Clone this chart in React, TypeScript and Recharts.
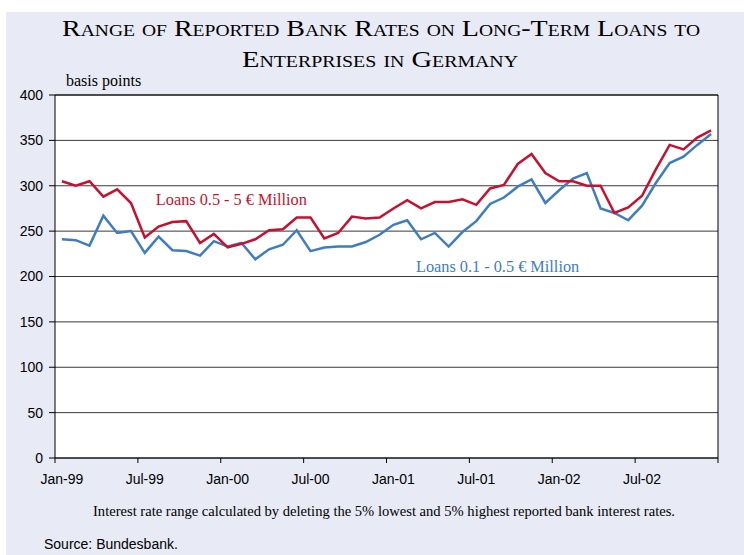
import React from "react";
import {
  LineChart,
  Line,
  XAxis,
  YAxis,
  CartesianGrid,
  ReferenceLine,
  ReferenceDot,
} from "recharts";

// months Jan-99 .. Dec-02
const monthNames = ["Jan", "Feb", "Mar", "Apr", "May", "Jun", "Jul", "Aug", "Sep", "Oct", "Nov", "Dec"];
const years = ["99", "00", "01", "02"];
const months = years.flatMap((y) => monthNames.map((m) => `${m}-${y}`));

// range of bank rates, basis points
const loansLarge = [
  305, 300, 305, 288, 296, 281, 243, 255, 260, 261, 237, 247,
  232, 236, 241, 251, 252, 265, 265, 242, 248, 266, 264, 265,
  275, 284, 275, 282, 282, 285, 279, 297, 301, 324, 335, 314,
  305, 305, 300, 300, 270, 276, 289, 318, 345, 340, 353, 361,
];
const loansSmall = [
  241, 240, 234, 267, 248, 250, 226, 244, 229, 228, 223, 239,
  233, 237, 219, 230, 235, 251, 228, 232, 233, 233, 238, 246,
  257, 262, 241, 248, 233, 249, 261, 280, 287, 299, 307, 281,
  295, 308, 314, 275, 270, 262, 278, 303, 325, 332, 345, 357,
];

const yTicks = [0, 50, 100, 150, 200, 250, 300, 350, 400];
// tick marks sit between months, labels every 6 months
const boundaryTicks = [-0.5, 5.5, 11.5, 17.5, 23.5, 29.5, 35.5, 41.5, 47.5];

const data = months.map((m, i) => ({
  i,
  month: m,
  large: loansLarge[i],
  small: loansSmall[i],
}));

const RED = "#c8102e";
const BLUE = "#3e7dc1";
const BG = "#e8eaf5";
const serif = "Liberation Serif";
const sans = "Liberation Sans";

const W = 744;
const H = 555;
const xAxisHeight = 30;
const margin = { top: 95, right: 26, bottom: 97 - xAxisHeight, left: 0 };
const yAxisWidth = 55;
const halfBand = (W - margin.left - margin.right - yAxisWidth) / months.length / 2;

const MonthTick = (props: any) => {
  const { x, y, payload } = props;
  const idx = payload.value + 0.5;
  if (idx >= months.length || idx % 6 !== 0) return <g />;
  return (
    <text x={x + halfBand} y={y} dy={19} textAnchor="middle" fill="#000" fontSize={14} fontFamily={sans}>
      {months[idx]}
    </text>
  );
};

const App = () => {
  return (
    <div style={{ position: "absolute", left: 0, top: 0, width: W, height: H, background: "#fff" }}>
      <svg width={W} height={H} style={{ position: "absolute", left: 0, top: 0 }}>
        <rect x={6} y={12} width={738} height={543} fill={BG} />
        <text
          x={381}
          y={36}
          textAnchor="middle"
          fontFamily={serif}
          fontSize={23}
          textLength={638}
          lengthAdjust="spacingAndGlyphs"
          style={{ fontVariant: "small-caps" }}
          fill="#000"
        >
          Range of Reported Bank Rates on Long-Term Loans to
        </text>
        <text
          x={380}
          y={67}
          textAnchor="middle"
          fontFamily={serif}
          fontSize={23}
          textLength={276}
          lengthAdjust="spacingAndGlyphs"
          style={{ fontVariant: "small-caps" }}
          fill="#000"
        >
          Enterprises in Germany
        </text>
        <text x={66} y={86} fontFamily={serif} fontSize={16} fill="#000">
          basis points
        </text>
        <text
          x={384}
          y={516}
          textAnchor="middle"
          fontFamily={serif}
          fontSize={14.5}
          textLength={582}
          lengthAdjust="spacingAndGlyphs"
          fill="#000"
        >
          Interest rate range calculated by deleting the 5% lowest and 5% highest reported bank interest rates.
        </text>
        <text x={44} y={549} fontFamily={sans} fontSize={14} fill="#000">
          Source: Bundesbank.
        </text>
      </svg>
      <div style={{ position: "absolute", left: 0, top: 0 }}>
        <LineChart width={W} height={H} data={data} margin={margin}>
          <CartesianGrid vertical={false} stroke="#3a3a3a" fill="#fff" fillOpacity={1} />
          <XAxis
            type="number"
            dataKey="i"
            domain={[-0.5, 47.5]}
            ticks={boundaryTicks}
            interval={0}
            tick={<MonthTick />}
            tickSize={5}
            height={xAxisHeight}
            stroke="#000"
            tickLine={{ stroke: "#000" }}
            allowDataOverflow
          />
          <YAxis
            domain={[0, 400]}
            ticks={yTicks}
            interval={0}
            width={yAxisWidth}
            tickSize={6}
            tickMargin={6}
            stroke="#000"
            tickLine={{ stroke: "#000" }}
            tick={{ fill: "#000", fontSize: 14, fontFamily: sans }}
          />
          <ReferenceLine y={400} stroke="#000" />
          <ReferenceLine x={47.5} stroke="#000" />
          <Line
            type="linear"
            dataKey="small"
            stroke={BLUE}
            strokeWidth={2.5}
            dot={false}
            isAnimationActive={false}
          />
          <Line
            type="linear"
            dataKey="large"
            stroke={RED}
            strokeWidth={2.5}
            dot={false}
            isAnimationActive={false}
          />
          <ReferenceDot
            x={6.44}
            y={285}
            r={0}
            stroke="none"
            fill="none"
            label={{
              value: "Loans 0.5 - 5 € Million",
              position: "right",
              offset: 5,
              fill: RED,
              fontSize: 16.3,
              fontFamily: serif,
            }}
          />
          <ReferenceDot
            x={25.27}
            y={211}
            r={0}
            stroke="none"
            fill="none"
            label={{
              value: "Loans 0.1 - 0.5 € Million",
              position: "right",
              offset: 5,
              fill: BLUE,
              fontSize: 16.3,
              fontFamily: serif,
            }}
          />
        </LineChart>
      </div>
    </div>
  );
};

export default App;
